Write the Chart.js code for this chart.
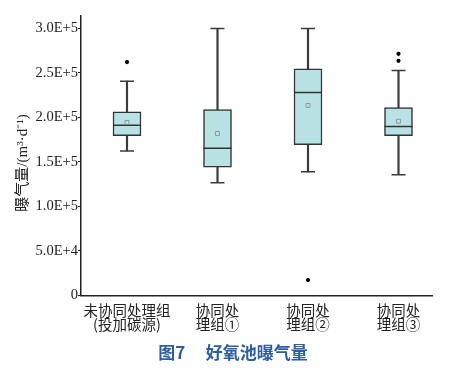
<!DOCTYPE html>
<html>
<head>
<meta charset="utf-8">
<script src="https://cdn.jsdelivr.net/npm/chart.js@4/dist/chart.umd.min.js"></script>
<style>
html,body{margin:0;padding:0;background:#fff;}
#wrap{width:462px;height:368px;}
</style>
</head>
<body>
<div id="wrap"><canvas id="c" width="462" height="368"></canvas></div>
<script>
// ---- data ----
const categories = [["未协同处理组","(投加碳源)"],["协同处","理组①"],["协同处","理组②"],["协同处","理组③"]];
const whiskerLow  = [162300, 126700, 138900, 135600];
const q1          = [179400, 144200, 169400, 179400];
const median      = [191200, 165300, 228000, 189800];
const q3          = [206200, 208700, 254700, 211000];
const whiskerHigh = [240700, 300000, 300000, 252600];
const mean        = [194300, 182000, 213500, 195700];
const outliers    = [[262200], [], [17300], [271400, 263600]];
const yTicks = [0, 50000, 100000, 150000, 200000, 250000, 300000];
const yTickLabels = ["0","5.0E+4","1.0E+5","1.5E+5","2.0E+5","2.5E+5","3.0E+5"];

const idx = categories.map((_, i) => i);
const boxData = idx.map(i => ({x: i, y: [q1[i], q3[i]]}));
const stemLowData = idx.map(i => ({x: i, y: [whiskerLow[i], q1[i]]}));
const stemHighData = idx.map(i => ({x: i, y: [q3[i], whiskerHigh[i]]}));
const capData = idx.flatMap(i => [{x: i, y: whiskerLow[i]}, {x: i, y: whiskerHigh[i]}]);
const medianData = idx.map(i => ({x: i, y: median[i]}));
const meanData = idx.map(i => ({x: i, y: mean[i]}));
const outlierData = idx.flatMap(i => outliers[i].map(v => ({x: i, y: v})));

const lineCol = '#3a3a3a';
const serif = '"Liberation Serif", "Noto Sans CJK SC", serif';

new Chart(document.getElementById('c'), {
  type: 'bar',
  data: {
    datasets: [
      {type:'bar', data: stemLowData, grouped:false, barThickness:1.5, backgroundColor: lineCol, borderWidth:0, order:5},
      {type:'bar', data: stemHighData, grouped:false, barThickness:1.5, backgroundColor: lineCol, borderWidth:0, order:5},
      {type:'bar', data: boxData, grouped:false, barThickness:28, backgroundColor:'#b9e2e4', borderColor:'#333', borderWidth:1.5, borderSkipped:false, order:4},
      {type:'scatter', data: capData, pointStyle:'line', radius:7, borderColor: lineCol, borderWidth:1.5, order:3},
      {type:'scatter', data: medianData, pointStyle:'line', radius:14, borderColor:'#333', borderWidth:1.5, order:2},
      {type:'scatter', data: meanData, pointStyle:'rect', radius:2.8, borderColor:'#888', backgroundColor:'rgba(255,255,255,0)', borderWidth:0.8, order:1},
      {type:'scatter', data: outlierData, pointStyle:'circle', radius:2.1, borderColor:'#000', backgroundColor:'#000', borderWidth:0, order:1}
    ]
  },
  options: {
    responsive: false,
    animation: false,
    events: [],
    layout: {padding: {left: 0, right: 30, top: 13, bottom: 0}},
    plugins: {
      legend: {display: false},
      tooltip: {enabled: false},
      title: {
        display: true,
        position: 'bottom',
        text: '\u3000\u3000图7\u3000\u2009好氧池曝气量',
        color: '#2d5d9f',
        font: {family: '"Noto Sans CJK SC", sans-serif', size: 17, weight: 'bold', lineHeight: 1.2},
        padding: {top: 5, bottom: 5}
      }
    },
    scales: {
      x: {
        type: 'linear',
        min: -0.5083,
        max: 3.3702,
        offset: false,
        afterBuildTicks: s => { s.ticks = idx.map(v => ({value: v})); },
        afterFit: s => { s.height = 42.1; },
        grid: {display: false, drawTicks: false},
        border: {display: true, color: '#222', width: 1.5},
        ticks: {
          autoSkip: false,
          maxRotation: 0,
          padding: 7.5,
          color: '#222',
          font: {family: '"Noto Sans CJK SC", sans-serif', size: 14.5, lineHeight: 0.98},
          callback: v => categories[v] !== undefined ? categories[v] : ''
        }
      },
      y: {
        min: 0,
        max: 314500,
        afterBuildTicks: s => { s.ticks = yTicks.map(v => ({value: v})); },
        afterFit: s => { s.width = 81; },
        grid: {display: true, drawOnChartArea: false, drawTicks: true, tickLength: 3, color: '#222', lineWidth: 1},
        border: {display: true, color: '#222', width: 1.5},
        ticks: {
          padding: 0,
          color: '#222',
          font: {family: serif, size: 14.5},
          callback: v => { const k = yTicks.indexOf(v); return k >= 0 ? yTickLabels[k] : ''; }
        },
        title: {
          display: true,
          text: '曝气量/(m³·d⁻¹)\u2003',
          color: '#222',
          font: {family: serif, size: 15, lineHeight: 1.2},
          padding: {top: 14, bottom: 0}
        }
      }
    }
  }
});
</script>
</body>
</html>
